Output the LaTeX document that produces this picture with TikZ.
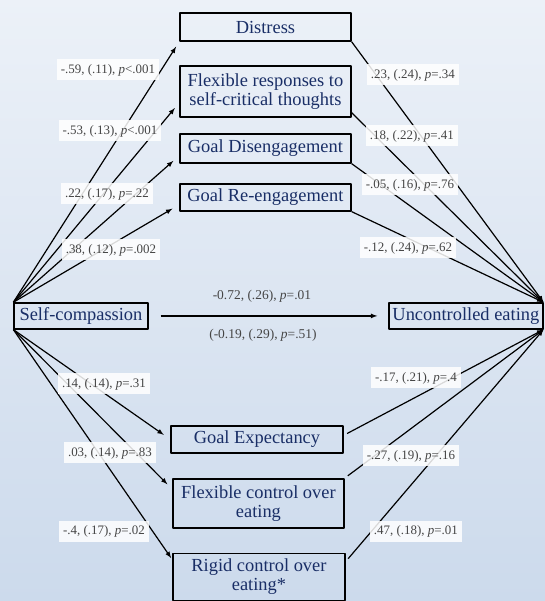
\documentclass[tikz,border=0pt]{standalone}
\usepackage{fontspec}
\setmainfont{Liberation Serif}
\usetikzlibrary{arrows,shapes}

\definecolor{boxtext}{rgb}{0.10,0.18,0.40}
\definecolor{coeftext}{rgb}{0.27,0.27,0.27}
\definecolor{bgtop}{rgb}{0.925,0.945,0.972}
\definecolor{bgbot}{rgb}{0.80,0.855,0.925}

\begin{document}
\begin{tikzpicture}[>=latex,line join=bevel,x=1bp,y=-1bp,
  varbox/.style={draw=black,line width=1.3bp,text=boxtext,align=center,inner sep=0pt,
    font=\fontsize{18.5}{19}\selectfont},
  coef/.style={fill=white,fill opacity=0.85,text opacity=1,text=coeftext,inner xsep=4bp,
    minimum height=21bp,font=\fontsize{13}{13}\selectfont},
  plain/.style={text=coeftext,font=\fontsize{13.5}{14}\selectfont},
  link/.style={->,line width=1.2bp,draw=black}]
%%
\begin{scope}
  \useasboundingbox (0,0) rectangle (545,601);
  \shade[top color=bgtop,bottom color=bgbot] (0,0) rectangle (545,601);
\end{scope}
  % Node: selfcomp
  \node[varbox,minimum width=134bp,minimum height=26bp] (selfcomp) at (81,316) {Self-compassion};
  % Node: uncontrolled
  \node[varbox,minimum width=154bp,minimum height=26bp] (uncontrolled) at (466,316) {Uncontrolled eating};
  % Node: distress
  \node[varbox,minimum width=171bp,minimum height=28bp] (distress) at (265.5,27) {Distress};
  % Node: flexresp
  \node[varbox,minimum width=171bp,minimum height=51bp] (flexresp) at (265.5,91.5) {Flexible responses to\\self-critical thoughts};
  % Node: disengage
  \node[varbox,minimum width=171bp,minimum height=29bp] (disengage) at (265.5,148.5) {Goal Disengagement};
  % Node: reengage
  \node[varbox,minimum width=171bp,minimum height=27bp] (reengage) at (265.5,197.5) {Goal Re-engagement};
  % Node: expectancy
  \node[varbox,minimum width=172bp,minimum height=27bp] (expectancy) at (257,439.5) {Goal Expectancy};
  % Node: flexcontrol
  \node[varbox,minimum width=171bp,minimum height=49bp] (flexcontrol) at (258.5,503.5) {Flexible control over\\eating};
  % Node: rigid
  \node[varbox,minimum width=172bp,minimum height=47bp] (rigid) at (259,577) {Rigid control over\\eating*};
%%
  % Edge: selfcomp -> distress
  \draw [link,shorten >=6bp] (selfcomp.north west) -- (distress.south west);
  % Edge: selfcomp -> flexresp
  \draw [link,shorten >=7bp] (selfcomp.north west) -- ([yshift=15bp]flexresp.south west);
  % Edge: selfcomp -> disengage
  \draw [link,shorten >=8bp] (selfcomp.north west) -- ([yshift=8bp]disengage.south west);
  % Edge: selfcomp -> reengage
  \draw [link,shorten >=8bp] (selfcomp.north west) -- ([yshift=7bp]reengage.south west);
  % Edge: selfcomp -> uncontrolled
  \draw [link,shorten <=12bp,shorten >=11bp] (selfcomp.east) -- (uncontrolled.west);
  % Edge: selfcomp -> expectancy
  \draw [link,shorten >=8bp] (selfcomp.south west) -- (expectancy.west);
  % Edge: selfcomp -> flexcontrol
  \draw [link,shorten >=7bp] (selfcomp.south west) -- ([yshift=-11bp]flexcontrol.north west);
  % Edge: selfcomp -> rigid
  \draw [link,shorten >=2bp] (selfcomp.south west) -- ([yshift=-7bp]rigid.north west);
  % Edge: distress -> uncontrolled
  \draw [link] (distress.south east) -- (uncontrolled.north east);
  % Edge: flexresp -> uncontrolled
  \draw [link] ([yshift=5bp]flexresp.south east) -- (uncontrolled.north east);
  % Edge: disengage -> uncontrolled
  \draw [link] (disengage.south east) -- (uncontrolled.north east);
  % Edge: reengage -> uncontrolled
  \draw [link] (reengage.south east) -- (uncontrolled.north east);
  % Edge: expectancy -> uncontrolled
  \draw [link,shorten <=4bp] ([yshift=4bp]expectancy.east) -- (uncontrolled.south east);
  % Edge: flexcontrol -> uncontrolled
  \draw [link,shorten <=4bp] (flexcontrol.north east) -- (uncontrolled.south east);
  % Edge: rigid -> uncontrolled
  \draw [link,shorten <=4bp] ([yshift=-9bp]rigid.north east) -- (uncontrolled.south east);
%%
  % Coefficients, left side
  \node[coef] (c59) at (108,70) {-.59, (.11), \textit{p}<.001};
  \node[coef] (c53) at (110,131) {-.53, (.13), \textit{p}<.001};
  \node[coef] (c22) at (107,194) {.22, (.17), \textit{p}=.22};
  \node[coef] (c38) at (111,250) {.38, (.12), \textit{p}=.002};
  \node[coef] (c14) at (104,384) {.14, (.14), \textit{p}=.31};
  \node[coef] (c03) at (110,453) {.03, (.14), \textit{p}=.83};
  \node[coef] (c4) at (104,532) {-.4, (.17), \textit{p}=.02};
  % Coefficients, right side
  \node[coef] (c23) at (413,75) {.23, (.24), \textit{p}=.34};
  \node[coef] (c18) at (412,136) {.18, (.22), \textit{p}=.41};
  \node[coef] (c05) at (410,185) {-.05, (.16), \textit{p}=.76};
  \node[coef] (c12) at (408,248) {-.12, (.24), \textit{p}=.62};
  \node[coef] (c17) at (416,378) {-.17, (.21), \textit{p}=.4};
  \node[coef] (c27) at (411,456) {-.27, (.19), \textit{p}=.16};
  \node[coef] (c47) at (416,532) {.47, (.18), \textit{p}=.01};
  % Direct and total effect
  \node[plain] (total) at (262,296) {-0.72, (.26), \textit{p}=.01};
  \node[plain] (direct) at (263,335) {(-0.19, (.29), \textit{p}=.51)};
%
\end{tikzpicture}
\end{document}
